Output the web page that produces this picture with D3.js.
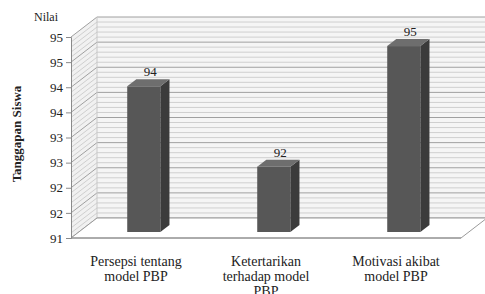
<!DOCTYPE html>
<html>
<head>
<meta charset="utf-8">
<script src="https://cdn.jsdelivr.net/npm/d3@7"></script>
<style>
    body { margin: 0; background: #fff; }
    svg text { font-family: "Liberation Serif", "DejaVu Serif", serif; fill: #222; }
</style>
</head>
<body>
<svg id="chart"></svg>
<script>
'use strict';
// data
let categories = [
    ["Persepsi tentang", "model PBP"],
    ["Ketertarikan", "terhadap model", "PBP"],
    ["Motivasi akibat", "model PBP"]
];
let values = [93.9, 92.3, 94.7];
let tickValues = [91, 91.5, 92, 92.5, 93, 93.5, 94, 94.5, 95];
let tickLabels = ["91", "92", "92", "93", "93", "94", "94", "95", "95"];
let yTitle = "Tanggapan Siswa";
let unitTitle = "Nilai";

function getChartConfig() {
    let width = 485, height = 294;
    let svg = d3.select("#chart")
        .attr("width", width)
        .attr("height", height);
    // oblique depth of the 3d box
    let depth = { dx: 26, dy: -20 };
    let plot = { left: 71, right: 461, top: 37, bottom: 238 };
    return { svg, width, height, depth, plot };
}

function getScales(config) {
    let { plot } = config;
    let yScale = d3.scaleLinear()
        .domain([91, 95])
        .range([plot.bottom, plot.top]);
    let xScale = d3.scaleBand()
        .domain(d3.range(categories.length))
        .range([plot.left, plot.right]);
    return { xScale, yScale };
}

function drawWalls(config, scales) {
    let { svg, depth, plot, width } = config;
    let { yScale } = scales;
    let bx = plot.left + depth.dx;

    // back wall
    svg.append("rect")
        .attr("x", bx).attr("y", plot.top + depth.dy)
        .attr("width", width - bx).attr("height", plot.bottom - plot.top)
        .attr("fill", "#f5f5f5");
    // side wall
    svg.append("polygon")
        .attr("points", [[plot.left, plot.top], [bx, plot.top + depth.dy],
            [bx, plot.bottom + depth.dy], [plot.left, plot.bottom]].join(" "))
        .attr("fill", "#f1f1f1");

    let minor = yScale.ticks(40);
    let g = svg.append("g");
    minor.forEach(v => {
        let major = tickValues.some(t => Math.abs(t - v) < 1e-6);
        let y = yScale(v);
        g.append("line")
            .attr("x1", bx).attr("x2", width)
            .attr("y1", y + depth.dy).attr("y2", y + depth.dy)
            .attr("stroke", major ? "#a0a0a0" : "#cfcfcf");
        g.append("line")
            .attr("x1", plot.left).attr("x2", bx)
            .attr("y1", y).attr("y2", y + depth.dy)
            .attr("stroke", major ? "#a0a0a0" : "#cfcfcf");
    });

    // wall edges
    svg.append("line")
        .attr("x1", bx).attr("x2", bx)
        .attr("y1", plot.top + depth.dy).attr("y2", plot.bottom + depth.dy)
        .attr("stroke", "#c8c8c8");

    // floor
    svg.append("polygon")
        .attr("points", [[plot.left, plot.bottom], [plot.right, plot.bottom],
            [plot.right + depth.dx, plot.bottom + depth.dy],
            [bx, plot.bottom + depth.dy]].join(" "))
        .attr("fill", "#fff")
        .attr("stroke", "#9a9a9a");
}

function drawAxis(config, scales) {
    let { svg, plot } = config;
    let { yScale } = scales;

    let yAxis = d3.axisLeft(yScale)
        .tickValues(tickValues)
        .tickSize(5)
        .tickPadding(3)
        .tickFormat((d, i) => tickLabels[i]);

    let ax = svg.append("g")
        .attr("transform", "translate(" + plot.left + ",0)")
        .call(yAxis);
    ax.attr("font-family", null);
    ax.select(".domain").attr("stroke", "#8a8a8a");
    ax.selectAll(".tick line").attr("stroke", "#8a8a8a");
    ax.selectAll(".tick text")
        .style("font-size", "13px")
        .attr("fill", "#333");

    svg.append("line")
        .attr("x1", plot.left).attr("x2", plot.right)
        .attr("y1", plot.bottom).attr("y2", plot.bottom)
        .attr("stroke", "#8a8a8a");

    svg.append("text")
        .attr("x", 46).attr("y", 21)
        .attr("text-anchor", "middle")
        .style("font-size", "12px")
        .text(unitTitle);

    svg.append("text")
        .attr("transform", "translate(21,134) rotate(-90)")
        .attr("text-anchor", "middle")
        .style("font-size", "13px")
        .style("font-weight", "bold")
        .text(yTitle);
}

function drawBars(config, scales) {
    let { svg, depth } = config;
    let { xScale, yScale } = scales;
    let f1 = 0.3, f2 = 0.65;
    let bw = xScale.bandwidth() * 0.255;
    let sx = (f2 - f1) * depth.dx, sy = (f2 - f1) * depth.dy;

    let bars = svg.selectAll(".bar")
        .data(values)
        .enter().append("g")
        .attr("class", "bar")
        .attr("transform", (d, i) => "translate(" +
            (xScale(i) + xScale.bandwidth() / 2 - bw / 2 + f1 * depth.dx) + "," + (f1 * depth.dy) + ")");

    let base = yScale.range()[0];

    // front
    bars.append("rect")
        .attr("x", 0).attr("y", d => yScale(d))
        .attr("width", bw).attr("height", d => base - yScale(d))
        .attr("fill", "#575757");
    // right side
    bars.append("polygon")
        .attr("points", d => [[bw, yScale(d)], [bw + sx, yScale(d) + sy],
            [bw + sx, base + sy], [bw, base]].join(" "))
        .attr("fill", "#3b3b3b");
    // top
    bars.append("polygon")
        .attr("points", d => [[0, yScale(d)], [sx, yScale(d) + sy],
            [bw + sx, yScale(d) + sy], [bw, yScale(d)]].join(" "))
        .attr("fill", "#6e6e6e");

    bars.append("text")
        .attr("x", (bw + sx) / 2 + 2)
        .attr("y", d => yScale(d) + sy - 3)
        .attr("text-anchor", "middle")
        .style("font-size", "13px")
        .text(d => d3.format(".0f")(d));
}

function drawCategories(config, scales) {
    let { svg, plot } = config;
    let { xScale } = scales;
    let labels = svg.selectAll(".cat")
        .data(categories)
        .enter().append("text")
        .attr("class", "cat")
        .attr("x", (d, i) => xScale(i) + xScale.bandwidth() / 2)
        .attr("y", plot.bottom + 28)
        .attr("text-anchor", "middle")
        .style("font-size", "14px");
    labels.selectAll("tspan")
        .data(d => d)
        .enter().append("tspan")
        .attr("x", function () { return this.parentNode.getAttribute("x"); })
        .attr("dy", (d, i) => i === 0 ? 0 : 15)
        .text(d => d);
}

function drawChart() {
    let config = getChartConfig();
    let scales = getScales(config);
    drawWalls(config, scales);
    drawBars(config, scales);
    drawAxis(config, scales);
    drawCategories(config, scales);
}

drawChart();
</script>
</body>
</html>
